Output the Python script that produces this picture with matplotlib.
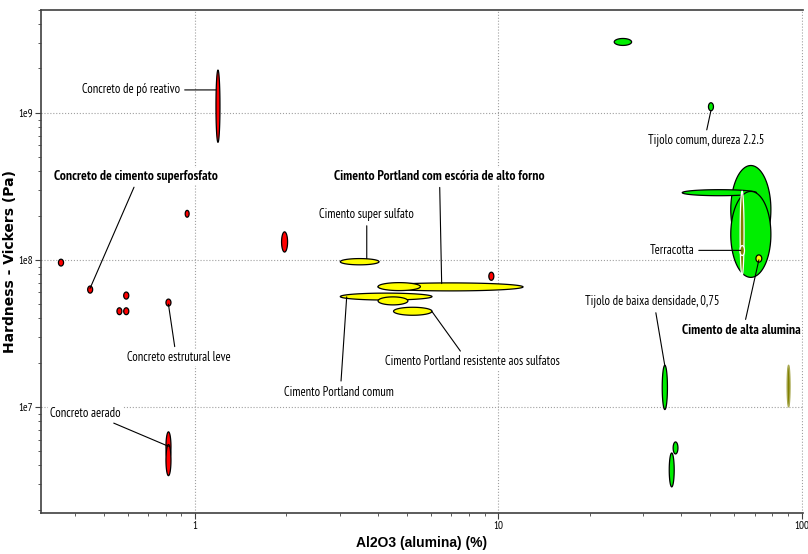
import numpy as np
import matplotlib
matplotlib.use('Agg')
from matplotlib import pyplot as plt
from matplotlib.ticker import LogLocator, NullFormatter

# Faixas de cada material: Al2O3 (%) e dureza Vickers (Pa)
materiais = ['Concreto de pó reativo', 'concreto a', 'concreto b', 'concreto c',
             'Concreto de cimento superfosfato', 'concreto d', 'concreto e', 'concreto f',
             'Concreto estrutural leve', 'Concreto aerado a', 'Concreto aerado b', 'concreto g',
             'Cimento super sulfato', 'Cimento Portland com escória de alto forno', 'cimento a',
             'Cimento Portland comum', 'cimento b', 'Cimento Portland resistente aos sulfatos',
             'tijolo a', 'Tijolo comum, dureza 2.2.5', 'tijolo b', 'tijolo c', 'tijolo d',
             'Tijolo de baixa densidade, 0,75', 'tijolo e', 'tijolo f',
             'Terracotta', 'terracotta b', 'ceramica', 'Cimento de alta alumina']
grupo = ['concreto'] * 12 + ['cimento'] * 6 + ['tijolo'] * 8 + ['terracotta'] * 3 + ['cimento']
al_min = [1.171, 0.927, 1.927, 0.354, 0.442, 0.581, 0.552, 0.581, 0.801, 0.801, 0.801, 9.30,
          3.01, 4.01, 4.01, 3.01, 4.01, 4.51,
          24.1, 49.3, 58.4, 40.4, 58.4, 34.7, 37.7, 36.6,
          62.7, 62.6, 89.6, 70.7]
al_max = [1.207, 0.955, 2.017, 0.368, 0.459, 0.604, 0.573, 0.604, 0.832, 0.832, 0.832, 9.66,
          4.04, 12.06, 5.53, 6.04, 5.03, 6.04,
          27.5, 51.2, 79.2, 71.0, 79.2, 36.1, 39.1, 38.0,
          64.6, 64.8, 91.6, 73.9]
hv_min = [6.3e8, 1.95e8, 1.13e8, 9.08e7, 5.94e7, 5.41e7, 4.24e7, 4.24e7, 4.85e7, 4.25e6, 3.41e6, 7.26e7,
          9.25e7, 6.15e7, 6.18e7, 5.33e7, 4.94e7, 4.2e7,
          2.87e9, 1.033e9, 1.1e8, 2.73e8, 7.6e7, 9.6e6, 4.79e6, 2.86e6,
          7.8e7, 1.07e8, 1.0e7, 9.65e7]
hv_max = [1.95e9, 2.17e8, 1.55e8, 1.01e8, 6.64e7, 6.04e7, 4.72e7, 4.72e7, 5.41e7, 6.77e6, 5.55e6, 8.24e7,
          1.02e8, 6.97e7, 7.0e7, 5.94e7, 5.6e7, 4.76e7,
          3.2e9, 1.17e9, 4.38e8, 3.0e8, 2.92e8, 1.92e7, 5.78e6, 4.86e6,
          2.93e8, 1.25e8, 1.92e7, 1.08e8]

# cores por familia de material
cores = {'concreto': ('#ff0000', 'black'), 'cimento': ('#ffff00', 'black'),
         'tijolo': ('#00ee00', 'black'), 'terracotta': ('#808000', 'white')}

# rotulos: (texto, indice do material, posicao do texto, ponto da linha, negrito, relpos)
rotulos = [
    ('Concreto de pó reativo', 0, (0.614, 1.43e9), (1.17, 1.43e9), False, (1, 0.5)),
    ('Concreto de cimento superfosfato', 4, (0.638, 3.71e8), (0.45, 6.4e7), True, (0.5, 0)),
    ('Cimento Portland com escória de alto forno', 13, (6.40, 3.71e8), (6.5, 6.9e7), True, (0.5, 0)),
    ('Cimento super sulfato', 12, (3.68, 2.03e8), (3.68, 1.02e8), False, (0.5, 0)),
    ('Tijolo comum, dureza 2.2.5', 19, (48.3, 6.43e8), (50.2, 1.03e9), False, (0.5, 1)),
    ('Terracotta', 26, (37.3, 1.16e8), (63.0, 1.16e8), False, (1, 0.5)),
    ('Cimento de alta alumina', 29, (63.1, 3.3e7), (72.3, 1.0e8), True, (0.53, 1)),
    ('Tijolo de baixa densidade, 0,75', 23, (32.2, 5.2e7), (35.4, 1.9e7), False, (0.52, 0)),
    ('Concreto estrutural leve', 8, (0.881, 2.16e7), (0.816, 5.0e7), False, (0.47, 1)),
    ('Cimento Portland comum', 15, (2.97, 1.26e7), (3.16, 5.6e7), False, (0.52, 1)),
    ('Cimento Portland resistente aos sulfatos', 17, (8.19, 2.03e7), (6.03, 4.47e7), False, (0.45, 1)),
    ('Concreto aerado', 9, (0.435, 9.0e6), (0.816, 5.4e6), False, (0.8, 0)),
]

fonte = ['PT Sans Narrow', 'DejaVu Sans']


def elipse(ax, x0, x1, y0, y1, cor, borda):
    # elipse desenhada no espaco logaritmico dos dois eixos
    t = np.linspace(0, 2 * np.pi, 120)
    lx0, lx1, ly0, ly1 = np.log10([x0, x1, y0, y1])
    xs = 10 ** ((lx0 + lx1) / 2 + (lx1 - lx0) / 2 * np.cos(t))
    ys = 10 ** ((ly0 + ly1) / 2 + (ly1 - ly0) / 2 * np.sin(t))
    ax.fill(xs, ys, facecolor=cor, edgecolor=borda, lw=0.9, zorder=3)


fig = plt.figure(figsize=(8.08, 5.54), dpi=100)
ax = fig.add_axes([0.0507, 0.074, 0.943, 0.908])
ax.set_xscale('log')
ax.set_yscale('log')
ax.set_xlim(0.31, 101)
ax.set_ylim(1.9e6, 5.0e9)

for i in range(len(materiais)):
    cor, borda = cores[grupo[i]]
    if i == 28:
        borda = '#a8a850'
    elipse(ax, al_min[i], al_max[i], hv_min[i], hv_max[i], cor, borda)

for texto, i, pos, ponto, negrito, rel in rotulos:
    ax.annotate(texto, xy=ponto, xytext=pos, ha='center', va='center',
                fontsize=9.8 if negrito else 9.0, family=fonte,
                fontweight='bold' if negrito else 'normal',
                bbox=dict(boxstyle='square,pad=0.15', fc='white', ec='none'),
                arrowprops=dict(arrowstyle='-', color='black', lw=0.8,
                                shrinkA=2, shrinkB=0, relpos=rel),
                zorder=5)

# eixos e grade
ax.xaxis.set_major_locator(LogLocator(base=10))
ax.yaxis.set_major_locator(LogLocator(base=10))
ax.xaxis.set_minor_formatter(NullFormatter())
ax.yaxis.set_minor_formatter(NullFormatter())
ax.set_xticks([1, 10, 100])
ax.set_xticklabels(['1', '10', '100'], family=fonte, fontsize=8)
ax.set_yticks([1e7, 1e8, 1e9])
ax.set_yticklabels(['1e7', '1e8', '1e9'], family=fonte, fontsize=8)
ax.grid(True, which='major', ls=':', color='#a0a0a0', lw=0.8, zorder=0)
ax.tick_params(which='both', direction='out', color='#404040', pad=2)
ax.tick_params(which='major', length=4)
ax.tick_params(which='minor', length=2.5)
for lado in ['left', 'bottom', 'top']:
    ax.spines[lado].set_color('#404040')
    ax.spines[lado].set_linewidth(1.2)
ax.spines['right'].set_visible(False)

ax.set_xlabel('Al2O3 (alumina) (%)', fontsize=10, fontweight='bold', family='Liberation Sans', labelpad=3)
ax.set_ylabel('Hardness - Vickers (Pa)', fontsize=10, fontweight='bold', family='DejaVu Sans')
ax.yaxis.set_label_coords(-0.031, 0.5)

plt.savefig('out.png', dpi=100)
